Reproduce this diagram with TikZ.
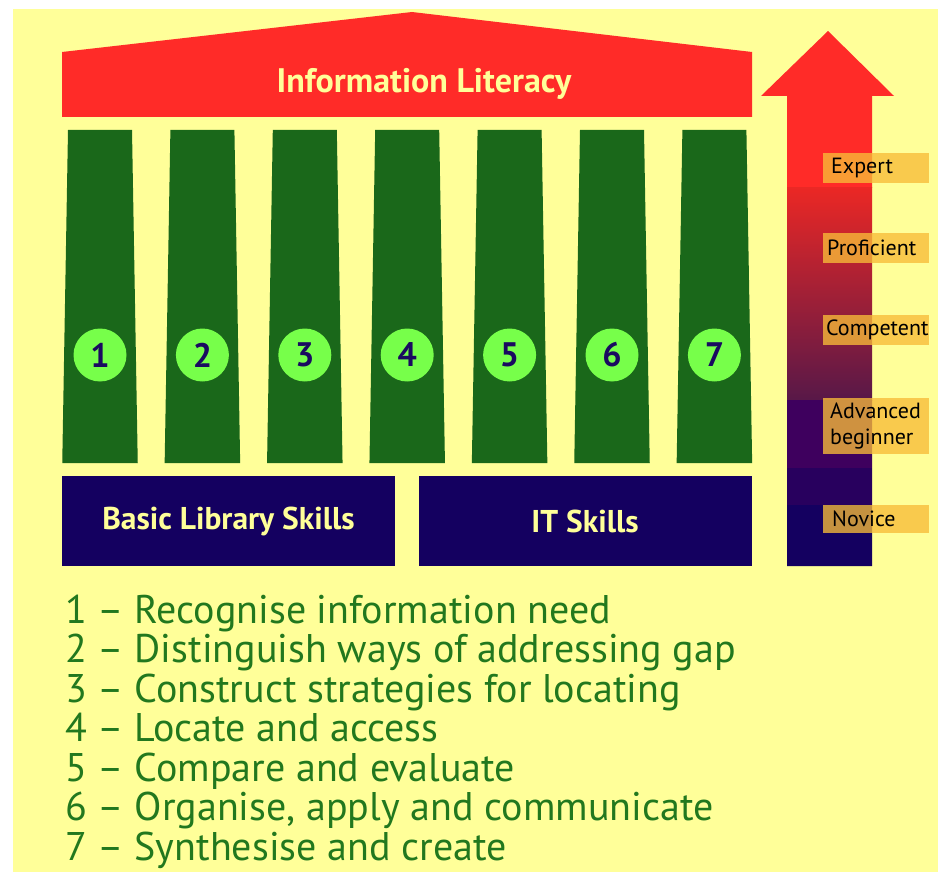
\documentclass[tikz,border=0pt]{standalone}
\usepackage{fontspec}
\setmainfont{PT Sans}
\usetikzlibrary{calc}
\definecolor{bgyellow}{RGB}{255,255,153}
\definecolor{roofred}{RGB}{255,43,40}
\definecolor{pillargreen}{RGB}{26,104,26}
\definecolor{circgreen}{RGB}{119,255,74}
\definecolor{navy}{RGB}{20,0,96}
\definecolor{numnavy}{RGB}{26,10,96}
\definecolor{listgreen}{RGB}{34,120,30}
\definecolor{lblorange}{RGB}{248,188,56}
\definecolor{midpurple}{RGB}{88,24,72}
\definecolor{deeppurple}{RGB}{62,0,94}
\definecolor{darkpurple}{RGB}{40,0,94}
\tikzset{
  pillar/.style={fill=pillargreen},
  numcirc/.style={circle,fill=circgreen,minimum size=53pt,inner sep=0pt,
    font=\fontsize{34}{34}\selectfont\bfseries,text=numnavy},
  basebox/.style={fill=navy,minimum width=333pt,minimum height=90pt,inner sep=0pt,
    font=\fontsize{31.5}{32}\selectfont\bfseries,text=bgyellow},
  lvl/.style={fill=lblorange,fill opacity=0.78,text opacity=1,anchor=west,
    minimum width=106pt,inner sep=0pt,text=black,align=left,
    font=\fontsize{22}{26}\selectfont,text width=106pt},
  listline/.style={anchor=base west,inner sep=0pt,text=listgreen,
    font=\fontsize{40}{40}\selectfont},
}
\begin{document}
\begin{tikzpicture}[x=1pt,y=-1pt]
\useasboundingbox (0,0) rectangle (938,872);
\fill[white] (0,0) rectangle (938,872);
\fill[bgyellow] (13,9) rectangle (938,872);
% roof
\fill[roofred] (62,52) -- (412,12) -- (752,52) -- (752,117) -- (62,117) -- cycle;
\node[text=bgyellow,font=\fontsize{34}{34}\selectfont\bfseries] (roof) at (424,84) {Information Literacy};
% pillars and numbers
\foreach \i in {1,...,7}{
  \pgfmathsetmacro{\cx}{100+102.4*(\i-1)}
  \fill[pillar] (\cx-32,130) -- (\cx+32,130) -- (\cx+37.75,463) -- (\cx-37.75,463) -- cycle;
  \node[numcirc] (c\i) at (\cx,355) {\i};
}
% base
\node[basebox] (bls) at (228.5,521) {Basic Library Skills};
\node[basebox] (its) at (585,521) {IT Skills};
% arrow
\begin{scope}
\clip (787,566) -- (787,96) -- (761,96) -- (828,31) -- (894,96) -- (872,96) -- (872,566) -- cycle;
\fill[roofred] (750,20) rectangle (900,188);
\shade[top color=roofred!92!black, bottom color=midpurple] (750,188) rectangle (900,400);
\fill[deeppurple] (750,400) rectangle (900,468);
\fill[darkpurple] (750,468) rectangle (900,505);
\fill[navy] (750,505) rectangle (900,570);
\end{scope}
% level labels
\node[lvl,minimum height=30pt] (expert) at (823,168) {\mbox{\hspace*{8pt}Expert}};
\node[lvl,minimum height=30pt] (prof) at (823,248) {\mbox{\hspace*{4pt}Proficient}};
\node[lvl,minimum height=30pt] (comp) at (823,330) {\mbox{\hspace*{3pt}Competent}};
\node[lvl,minimum height=56pt] (adv) at (823,426) {\mbox{\hspace*{7pt}Advanced}\\\mbox{\hspace*{7pt}beginner}};
\node[lvl,minimum height=28pt] (nov) at (823,519) {\mbox{\hspace*{9pt}Novice}};
% list
\node[listline] (l1) at (65,623) {1 – Recognise information need};
\node[listline] (l2) at (65,662.5) {2 – Distinguish ways of addressing gap};
\node[listline] (l3) at (65,702) {3 – Construct strategies for locating};
\node[listline] (l4) at (65,741.5) {4 – Locate and access};
\node[listline] (l5) at (65,781) {5 – Compare and evaluate};
\node[listline] (l6) at (65,820.5) {6 – Organise, apply and communicate};
\node[listline] (l7) at (65,860) {7 – Synthesise and create};
\end{tikzpicture}
\end{document}
